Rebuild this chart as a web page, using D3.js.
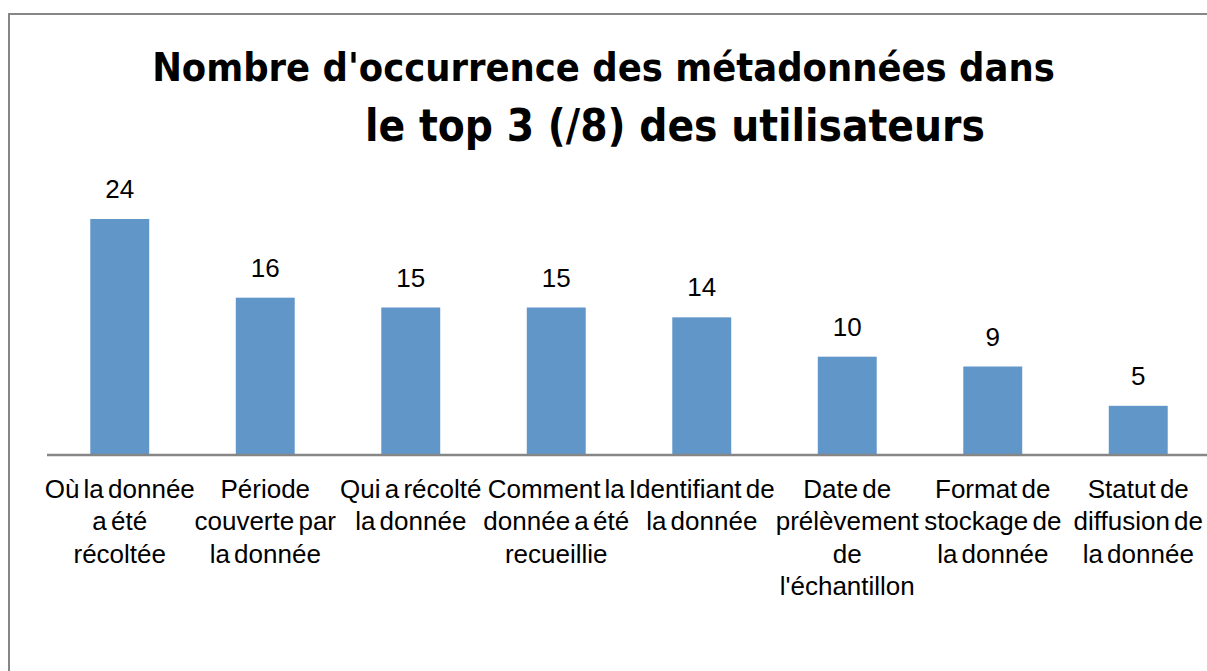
<!DOCTYPE html>
<html>
<head>
<meta charset="utf-8">
<script src="https://cdn.jsdelivr.net/npm/d3@7"></script>
<style>
  html, body { margin: 0; background: #fff; overflow: hidden; }
  svg { display: block; }
</style>
</head>
<body>
<svg id="chart" width="1207" height="671"></svg>
<script>
const categories = [
  ["Où la donnée", "a été", "récoltée"],
  ["Période", "couverte par", "la donnée"],
  ["Qui a récolté", "la donnée"],
  ["Comment la", "donnée a été", "recueillie"],
  ["Identifiant de", "la donnée"],
  ["Date de", "prélèvement", "de", "l'échantillon"],
  ["Format de", "stockage de", "la donnée"],
  ["Statut de", "diffusion de", "la donnée"]
];
const values = [24, 16, 15, 15, 14, 10, 9, 5];
const titleLines = ["Nombre d'occurrence des métadonnées dans", "le top 3 (/8) des utilisateurs"];

const svg = d3.select("#chart");
const width = +svg.attr("width");

// frame: only top and left edges show in the picture
svg.append("path")
  .attr("d", `M9,${671 + 10}V14H${width + 10}`)
  .attr("fill", "none")
  .attr("stroke", "#868686")
  .attr("stroke-width", 2);

const baseY = 455;
const x = d3.scaleBand()
  .domain(d3.range(values.length))
  .range([47, 1211])
  .paddingInner(0.595)
  .paddingOuter(0.2975);

const y = d3.scaleLinear()
  .domain([0, 24])
  .range([baseY, 219]);

// title, each line fitted to its width in the reference
const titleFit = [
  { x0: 152, x1: 1055, base: 81 },
  { x0: 365, x1: 985, base: 141 }
];
titleLines.forEach((t, i) => {
  const f = titleFit[i];
  const txt = svg.append("text")
    .attr("x", (f.x0 + f.x1) / 2)
    .attr("y", f.base)
    .attr("text-anchor", "middle")
    .style("font-family", "'DejaVu Sans Condensed', 'DejaVu Sans', sans-serif")
    .style("font-weight", "bold")
    .style("font-size", "44px")
    .attr("fill", "#000")
    .text(t);
  const w = txt.node().getComputedTextLength();
  txt.style("font-size", (44 * (f.x1 - f.x0) / w) + "px");
});

// bars
svg.append("g")
  .selectAll("rect")
  .data(values)
  .join("rect")
  .attr("x", (d, i) => x(i))
  .attr("y", d => y(d))
  .attr("width", x.bandwidth())
  .attr("height", d => baseY - y(d))
  .attr("fill", "#6196C9");

// value labels
svg.append("g")
  .selectAll("text")
  .data(values)
  .join("text")
  .attr("x", (d, i) => x(i) + x.bandwidth() / 2)
  .attr("y", d => y(d) - 21)
  .attr("text-anchor", "middle")
  .style("font-family", "'Liberation Sans', Arial, sans-serif")
  .style("font-size", "26px")
  .attr("fill", "#000")
  .text(d => d);

// category axis
const axis = svg.append("g")
  .attr("transform", `translate(0,${baseY})`)
  .call(d3.axisBottom(x).tickSize(0).tickFormat(""));
axis.select(".domain")
  .attr("d", `M47,0H${width + 10}`)
  .attr("stroke", "#868686")
  .attr("stroke-width", 2.5);

axis.selectAll(".tick").each(function (i) {
  const t = d3.select(this).append("text")
    .attr("text-anchor", "middle")
    .attr("fill", "#000")
    .style("font-family", "'Liberation Sans', Arial, sans-serif")
    .style("font-size", "26px")
    .style("word-spacing", "-3px");
  categories[i].forEach((line, k) => {
    t.append("tspan")
      .attr("x", 0)
      .attr("y", 43 + k * 32.4)
      .text(line);
  });
});
</script>
</body>
</html>
